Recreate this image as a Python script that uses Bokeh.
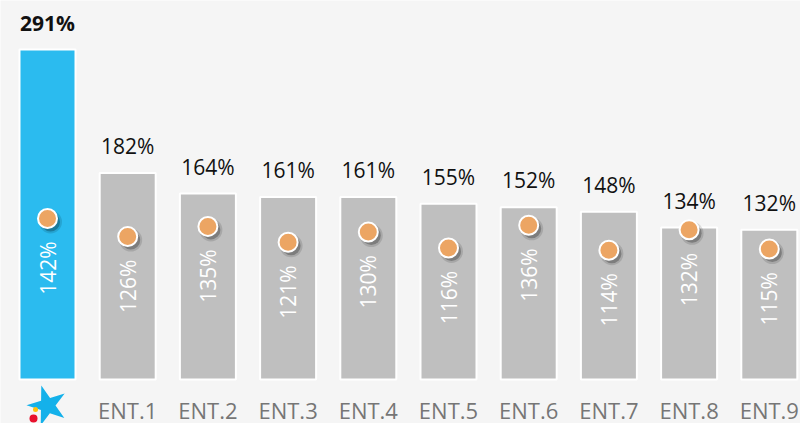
import numpy as np
from bokeh.plotting import figure
from bokeh.models import ColumnDataSource, Range1d
from bokeh.core.properties import value
from bokeh.embed import file_html
from bokeh.resources import INLINE

# ---- data ----
categories = ["CaixaBank", "ENT.1", "ENT.2", "ENT.3", "ENT.4", "ENT.5", "ENT.6", "ENT.7", "ENT.8", "ENT.9"]
tick_labels = ["", "ENT.1", "ENT.2", "ENT.3", "ENT.4", "ENT.5", "ENT.6", "ENT.7", "ENT.8", "ENT.9"]
bar_values = [291, 182, 164, 161, 161, 155, 152, 148, 134, 132]
dot_values = [142, 126, 135, 121, 130, 116, 136, 114, 132, 115]

# ---- styles ----
BG = "#f5f5f5"
BLUE = "#2bbbef"
GRAY = "#bfbfbf"
ORANGE = "#eca563"
FONT = "Open Sans"

W, H = 800, 423
px_per_unit_y = 330 / 291.0
px_per_cat = 80.2
first_center_px = 47.0
base_px = 379.0  # px of zero line from top

y_top = base_px / px_per_unit_y
y_bot = -(H - base_px) / px_per_unit_y
x_start = -first_center_px / px_per_cat
x_end = x_start + W / px_per_cat

xs = list(range(len(categories)))
colors = [BLUE] + [GRAY] * (len(categories) - 1)
styles = ["bold"] + ["normal"] * (len(categories) - 1)

src = ColumnDataSource(dict(
    x=xs, cat=categories, tick=tick_labels, v=bar_values, d=dot_values,
    color=colors, style=styles,
    vlab=[f"{v}%" for v in bar_values], dlab=[f"{d}%" for d in dot_values],
    sx=[x + 3 / px_per_cat for x in xs], sy=[d - 3.5 / px_per_unit_y for d in dot_values],
    ty=[-30 / px_per_unit_y] * len(xs),
))

p = figure(width=W, height=H, output_backend="svg", toolbar_location=None,
           x_range=Range1d(x_start, x_end), y_range=Range1d(y_bot, y_top),
           x_axis_location=None, y_axis_location=None, min_border=0)
p.background_fill_color = BG
p.border_fill_color = BG
p.outline_line_color = None
p.xgrid.visible = False
p.ygrid.visible = False

bw = 56 / px_per_cat
p.vbar(x="x", top="v", bottom=0, width=bw, fill_color="color", line_color="white", line_width=2, source=src)

# value labels above bars
p.text(x="x", y="v", text="vlab", source=src, text_align="center", text_baseline="middle",
       y_offset=-27, text_font=value(FONT), text_font_size="21px", text_font_style="style",
       text_color="#111111")

# rotated labels for dots
p.text(x="x", y="d", text="dlab", source=src, angle=np.pi / 2, text_align="right", text_baseline="middle",
       y_offset=23, text_font=value(FONT), text_font_size="21px", text_color="white")

# dot shadows
p.scatter(x="sx", y="sy", source=src, size=23, fill_color="black", fill_alpha=0.12, line_color=None)
p.scatter(x="sx", y="sy", source=src, size=19, fill_color="black", fill_alpha=0.25, line_color=None)
# dots
p.scatter(x="x", y="d", source=src, size=19, fill_color=ORANGE, line_color="white", line_width=2)

# category labels
p.text(x="x", y="ty", text="tick", source=src, text_align="center", text_baseline="middle",
       text_font=value(FONT), text_font_size="22px", text_color="#767676")

# logo for first category
ly = -26 / px_per_unit_y
p.scatter(x=[xs[0]], y=[ly], marker="star", size=42, fill_color="#14b1ea", line_color=None, angle=0.3)
p.scatter(x=[xs[0] - 14 / px_per_cat], y=[ly - 13 / px_per_unit_y], size=8, fill_color="#e8112d", line_color=None)
p.scatter(x=[xs[0] - 12 / px_per_cat], y=[ly - 4 / px_per_unit_y], size=5, fill_color="#ffc20e", line_color=None)

open("out.html", "w").write(file_html(p, INLINE))
